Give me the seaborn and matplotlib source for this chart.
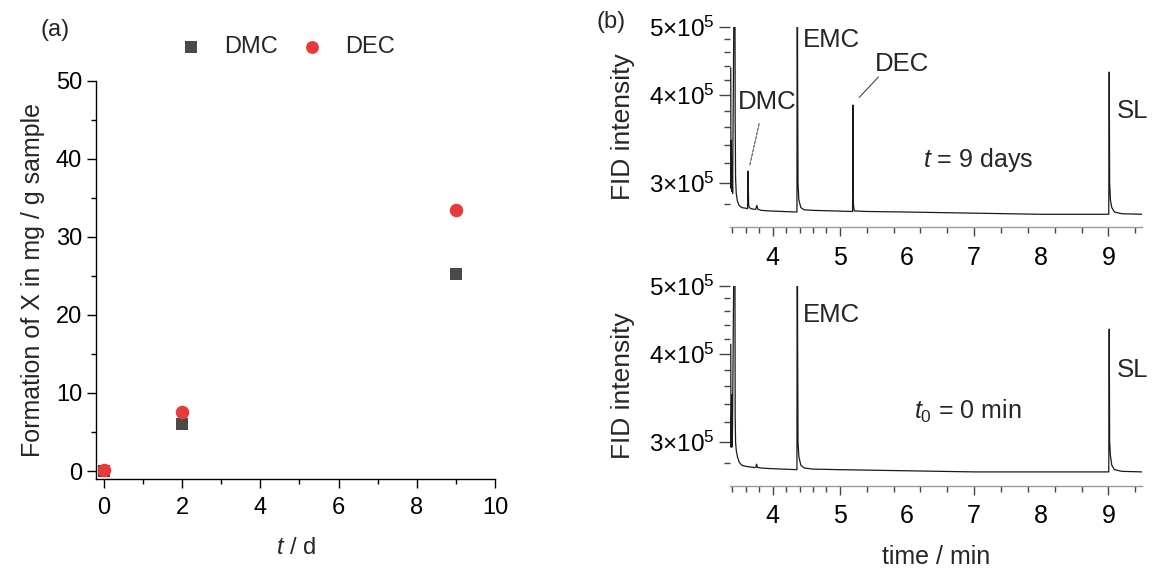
import numpy as np
import pandas as pd
import matplotlib
matplotlib.use("Agg")
import matplotlib.pyplot as plt
import seaborn as sns
from matplotlib.ticker import FixedLocator, NullFormatter, FixedFormatter

# ---------------- data: panel (a) ----------------
days = [0, 2, 9]
dmc_mg = [0.0, 6.0, 25.3]
dec_mg = [0.1, 7.6, 33.4]
compounds = ["DMC", "DEC"]

# ---------------- data: panel (b) chromatograms (time in min, FID intensity in 1e5) -----
t9_time = [3.376, 3.380, 3.386, 3.392, 3.398, 3.404, 3.436, 3.442, 3.448, 3.458,
           3.475, 3.50, 3.54, 3.59, 3.626, 3.635, 3.642, 3.652, 3.68, 3.72,
           3.750, 3.764, 3.78, 3.83, 3.95, 4.15, 4.362, 4.366, 4.372, 4.378,
           4.39, 4.42, 4.47, 4.60, 4.90, 5.190, 5.196, 5.202, 5.215, 5.40,
           6.00, 6.50, 7.00, 7.50, 8.00, 8.50, 9.005, 9.012, 9.018, 9.030,
           9.05, 9.09, 9.20, 9.50]
t9_int = [4.37, 2.95, 3.45, 2.92, 3.20, 2.90, 8.00, 3.70, 3.05, 2.90,
          2.83, 2.79, 2.77, 2.765, 2.76, 3.12, 2.80, 2.77, 2.76, 2.755,
          2.755, 2.79, 2.755, 2.745, 2.74, 2.735, 2.73, 8.00, 4.20, 3.00,
          2.84, 2.77, 2.75, 2.745, 2.74, 2.735, 3.87, 2.80, 2.74, 2.735,
          2.73, 2.725, 2.72, 2.715, 2.71, 2.71, 2.71, 4.31, 3.00, 2.84,
          2.77, 2.73, 2.715, 2.71]

t0_time = [3.376, 3.380, 3.390, 3.396, 3.402, 3.436, 3.442, 3.448, 3.458, 3.475,
           3.50, 3.54, 3.60, 3.66, 3.72, 3.750, 3.760, 3.775, 3.83, 3.95,
           4.15, 4.362, 4.366, 4.372, 4.378, 4.39, 4.42, 4.47, 4.60, 5.00,
           5.50, 6.00, 6.50, 7.00, 7.50, 8.00, 8.50, 9.005, 9.012, 9.018,
           9.030, 9.05, 9.09, 9.20, 9.50]
t0_int = [4.13, 2.95, 3.50, 2.95, 3.10, 8.00, 3.28, 3.00, 2.92, 2.86,
          2.81, 2.78, 2.77, 2.765, 2.76, 2.76, 2.79, 2.76, 2.755, 2.75,
          2.745, 2.74, 8.00, 4.20, 3.00, 2.86, 2.78, 2.755, 2.745, 2.74,
          2.735, 2.73, 2.725, 2.72, 2.72, 2.72, 2.72, 2.72, 4.34, 3.00,
          2.87, 2.78, 2.74, 2.725, 2.72]

panel_labels = ["(a)", "(b)"]
x_label_a = r"$\mathit{t}$ / d"
y_label_a = "Formation of X in mg / g sample"
x_label_b = "time / min"
y_label_b = "FID intensity"
time_ticks = [4, 5, 6, 7, 8, 9]
fid_ticks = [3e5, 4e5, 5e5]
fid_tick_labels = [r"3$\times$10$^5$", r"4$\times$10$^5$", r"5$\times$10$^5$"]

# ---------------- style ----------------
sns.set_theme(style="white")
plt.rcParams["font.family"] = ["Liberation Sans", "DejaVu Sans"]
plt.rcParams["mathtext.fontset"] = "custom"
plt.rcParams["mathtext.rm"] = "Liberation Sans"
plt.rcParams["mathtext.it"] = "Liberation Sans:italic"
plt.rcParams["mathtext.bf"] = "Liberation Sans:bold"

FS = 17
FS_ANN = 18.5
W, H = 1153, 569
fig = plt.figure(figsize=(W / 100, H / 100), dpi=100)


def frac(x0, y0, x1, y1):
    return [x0 / W, 1 - y1 / H, (x1 - x0) / W, (y1 - y0) / H]


# ---------------- panel (a) ----------------
axa = fig.add_axes(frac(96, 80.7, 495, 479.3))
sns.scatterplot(x=days, y=dmc_mg, marker="s", s=72, color="#4a4a4a",
                linewidth=0, label=compounds[0], ax=axa)
sns.scatterplot(x=days, y=dec_mg, marker="o", s=95, color="#e8393b",
                linewidth=0, label=compounds[1], ax=axa)
axa.set_xlim(-0.2, 10)
axa.set_ylim(-1.06, 50)
axa.set_xticks([0, 2, 4, 6, 8, 10])
axa.set_yticks([0, 10, 20, 30, 40, 50])
axa.xaxis.set_minor_locator(FixedLocator(np.arange(1, 10, 2)))
axa.yaxis.set_minor_locator(FixedLocator(np.arange(5, 50, 5)))
for side in ["top", "right"]:
    axa.spines[side].set_visible(False)
for side in ["left", "bottom"]:
    axa.spines[side].set_color("black")
    axa.spines[side].set_linewidth(1.0)
axa.tick_params(which="both", direction="out", colors="black", labelsize=FS,
                left=True, bottom=True)
axa.tick_params(which="major", length=6.5, width=1.0)
axa.tick_params(which="minor", length=3.5, width=1.0)
axa.tick_params(axis="x", which="major", pad=6)
axa.set_xlabel(x_label_a, fontsize=FS, labelpad=13)
axa.set_ylabel(y_label_a, fontsize=18, labelpad=8)
axa.legend(loc="center", bbox_to_anchor=(0.465, 1.085), ncol=2, frameon=False,
           fontsize=FS, handletextpad=0.4, columnspacing=0.45, markerscale=0.95)

fig.text(55 / W, 1 - 30 / H, panel_labels[0], fontsize=FS, ha="center", va="center")
fig.text(611 / W, 1 - 22 / H, panel_labels[1], fontsize=FS, ha="center", va="center")


# ---------------- panel (b) ----------------
def chrom_axes(box, times, ints):
    ax = fig.add_axes(frac(*box))
    df = pd.DataFrame({"time": times, "intensity": np.array(ints) * 1e5})
    sns.lineplot(data=df, x="time", y="intensity", estimator=None, sort=False,
                 color="#1a1a1a", linewidth=0.9, ax=ax)
    ax.set_yscale("log")
    ax.set_xlim(3.365, 9.5)
    ax.set_ylim(2.6e5, 5e5)
    ax.yaxis.set_major_locator(FixedLocator(fid_ticks))
    ax.yaxis.set_major_formatter(FixedFormatter(fid_tick_labels))
    ax.yaxis.set_minor_locator(FixedLocator(
        [2.8e5, 3.2e5, 3.4e5, 3.6e5, 3.8e5, 4.2e5, 4.4e5, 4.6e5, 4.8e5]))
    ax.yaxis.set_minor_formatter(NullFormatter())
    ax.set_xticks(time_ticks)
    ax.xaxis.set_minor_locator(FixedLocator(
        [3.4, 3.6, 3.8, 4.2, 4.4, 4.6, 4.8, 5.4, 5.8, 6.2, 6.6,
         7.4, 7.8, 8.2, 8.6, 9.4]))
    for side in ["top", "right", "left"]:
        ax.spines[side].set_visible(False)
    ax.spines["bottom"].set_color("#9a9a9a")
    ax.spines["bottom"].set_linewidth(1.0)
    ax.tick_params(which="both", direction="out", colors="#444444",
                   labelcolor="black", left=True, bottom=True)
    ax.tick_params(axis="y", which="major", length=8, width=1.0, pad=3,
                   labelsize=17.5)
    ax.tick_params(axis="y", which="minor", length=4, width=1.0)
    ax.tick_params(axis="x", which="major", length=6.5, width=1.0, pad=7,
                   labelsize=18)
    ax.tick_params(axis="x", which="minor", length=4, width=1.0)
    for tk, v in zip(ax.xaxis.get_major_ticks(), time_ticks):
        if v in (6, 8):
            tk.tick1line.set_visible(False)
    ax.set_ylabel(y_label_b, fontsize=19, labelpad=10)
    ax.set_xlabel("")
    return ax


axt = chrom_axes((730, 26.5, 1142, 227), t9_time, t9_int)
axb = chrom_axes((730, 285.8, 1142, 485.7), t0_time, t0_int)
axb.set_xlabel(x_label_b, fontsize=18, labelpad=12)

# annotations, top
axt.text(3.919, 3.91e5, "DMC", fontsize=FS_ANN, ha="center", va="center")
axt.annotate("", xy=(3.650, 3.15e5), xytext=(3.808, 3.675e5),
             arrowprops=dict(arrowstyle="-", color="#333333", lw=0.7,
                             linestyle=(0, (3, 1.5))))
axt.text(4.88, 4.78e5, "EMC", fontsize=FS_ANN, ha="center", va="center")
axt.text(5.93, 4.42e5, "DEC", fontsize=FS_ANN, ha="center", va="center")
axt.annotate("", xy=(5.259, 3.94e5), xytext=(5.605, 4.27e5),
             arrowprops=dict(arrowstyle="-", color="#333333", lw=0.7))
axt.text(7.056, 3.23e5, r"$\mathit{t}$ = 9 days", fontsize=18, ha="center", va="center")
axt.text(9.36, 3.80e5, "SL", fontsize=FS_ANN, ha="center", va="center")

# annotations, bottom
axb.text(4.87, 4.55e5, "EMC", fontsize=FS_ANN, ha="center", va="center")
axb.text(6.90, 3.31e5, r"$\mathit{t}_{0}$ = 0 min", fontsize=18, ha="center", va="center")
axb.text(9.36, 3.79e5, "SL", fontsize=FS_ANN, ha="center", va="center")

fig.savefig("out.png", dpi=100)
